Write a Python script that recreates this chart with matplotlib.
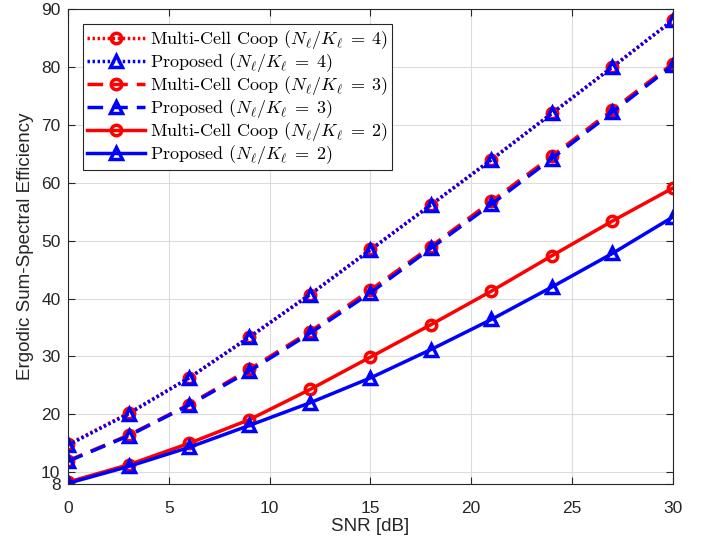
import matplotlib.pyplot as plt
import numpy as np

plt.rcParams['mathtext.fontset'] = 'cm'
plt.rcParams['axes.unicode_minus'] = False
plt.rcParams['font.family'] = 'Liberation Sans'

snr = [0, 3, 6, 9, 12, 15, 18, 21, 24, 27, 30]

coop_4 = [14.8, 20.2, 26.3, 33.3, 40.7, 48.5, 56.2, 64.0, 72.0, 80.0, 88.1]
prop_4 = [14.7, 20.1, 26.3, 33.4, 40.7, 48.4, 56.2, 64.0, 72.0, 80.0, 88.1]
coop_3 = [12.0, 16.4, 21.7, 27.8, 34.3, 41.5, 49.0, 56.8, 64.6, 72.6, 80.6]
prop_3 = [11.9, 16.3, 21.6, 27.5, 34.0, 41.0, 48.7, 56.3, 64.2, 72.2, 80.3]
coop_2 = [8.3, 11.3, 15.0, 19.1, 24.3, 29.9, 35.5, 41.3, 47.4, 53.4, 59.1]
prop_2 = [8.1, 11.0, 14.3, 18.1, 22.0, 26.3, 31.2, 36.4, 42.0, 47.8, 54.1]

yticks = [8, 10, 20, 30, 40, 50, 60, 70, 80, 90]
xticks = [0, 5, 10, 15, 20, 25, 30]

dotted = (0, (0.7, 0.75))
dashed = (0, (4.5, 2.6))

fig = plt.figure(figsize=(7.09, 5.4), dpi=100)
ax = fig.add_axes([0.096, 0.104, 0.853, 0.879])

common = dict(linewidth=2.5, markerfacecolor='none', markeredgewidth=2.5)
circ = dict(marker='o', markersize=7.5, color='red')
tri = dict(marker='^', markersize=8.5, color='blue')
lab = r'$(N_\ell/K_\ell\;=\;%d)$'
ax.plot(snr, coop_4, linestyle=dotted, label='Multi-Cell Coop ' + lab % 4, **circ, **common)
ax.plot(snr, prop_4, linestyle=dotted, label='Proposed ' + lab % 4, **tri, **common)
ax.plot(snr, coop_3, linestyle=dashed, label='Multi-Cell Coop ' + lab % 3, **circ, **common)
ax.plot(snr, prop_3, linestyle=dashed, label='Proposed ' + lab % 3, **tri, **common)
ax.plot(snr, coop_2, linestyle='-', label='Multi-Cell Coop ' + lab % 2, **circ, **common)
ax.plot(snr, prop_2, linestyle='-', label='Proposed ' + lab % 2, **tri, **common)

ax.set_xlim(0, 30)
ax.set_ylim(8, 90)
ax.set_xticks(xticks)
ax.set_yticks(yticks)
ax.grid(True, color='#dcdcdc', linewidth=0.8)
ax.set_axisbelow(True)
ax.tick_params(direction='in', top=True, right=True, labelsize=12.5,
               colors='#262626', length=5)
ax.tick_params(axis='x', pad=12)
ax.tick_params(axis='y', pad=5.5)
for s in ax.spines.values():
    s.set_color('#262626')
    s.set_linewidth(0.8)

ax.set_xlabel('SNR [dB]', fontsize=13.5, color='#262626', labelpad=2)
ax.set_ylabel('Ergodic Sum-Spectral Efficiency', fontsize=13.5, color='#262626', labelpad=5)

leg = ax.legend(loc='upper left', bbox_to_anchor=(0.025, 0.968),
                prop={'family': 'cmr10', 'size': 13},
                handlelength=3.2, handletextpad=0.3, labelspacing=0.0,
                borderpad=0.2, borderaxespad=0.0, fancybox=False,
                framealpha=1, edgecolor='#262626')
leg.get_frame().set_linewidth(0.8)

fig.savefig('out.png', dpi=100)
